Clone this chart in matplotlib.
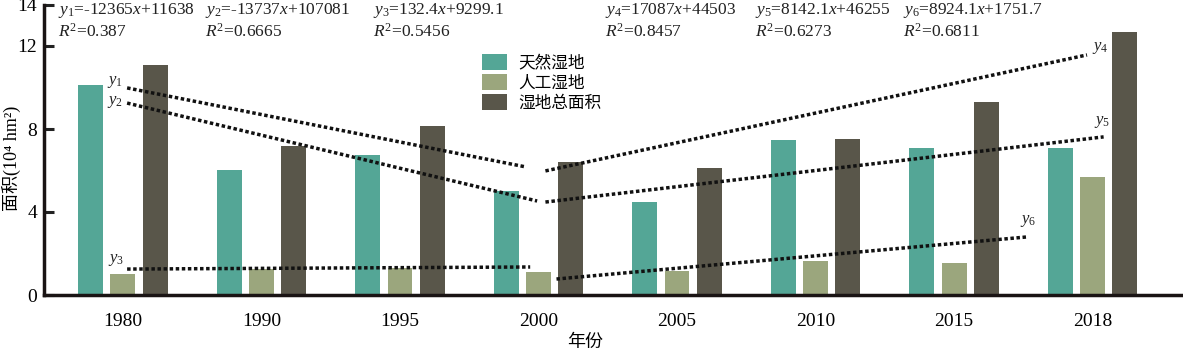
import numpy as np
import matplotlib
matplotlib.use('Agg')
import matplotlib.pyplot as plt

plt.rcParams['font.family'] = ['Liberation Serif', 'Noto Sans CJK SC']
plt.rcParams['mathtext.fontset'] = 'custom'
plt.rcParams['mathtext.rm'] = 'Liberation Serif'
plt.rcParams['mathtext.it'] = 'Liberation Serif:italic'
plt.rcParams['mathtext.bf'] = 'Liberation Serif:bold'

# data (10^4 hm2)
years = ['1980', '1990', '1995', '2000', '2005', '2010', '2015', '2018']
natural = [10.12, 6.02, 6.75, 5.01, 4.48, 7.47, 7.10, 7.10]
artificial = [1.01, 1.25, 1.28, 1.10, 1.18, 1.65, 1.54, 5.70]
total = [11.08, 7.18, 8.14, 6.41, 6.12, 7.50, 9.30, 12.66]
series_names = ['天然湿地', '人工湿地', '湿地总面积']

# fitted trend segments (start/end in group index and value)
trend_names = ['$y_1$', '$y_2$', '$y_3$', '$y_4$', '$y_5$', '$y_6$']
trend_x0 = [0.03, 0.03, 0.03, 3.05, 3.05, 3.13]
trend_x1 = [2.91, 2.99, 2.94, 6.96, 7.08, 6.53]
trend_y0 = [9.98, 9.25, 1.25, 5.98, 4.48, 0.77]
trend_y1 = [6.17, 4.53, 1.35, 11.57, 7.62, 2.80]

eq_labels = ['$y_1$=-12365$x$+11638', '$y_2$=-13737$x$+107081',
             '$y_3$=132.4$x$+9299.1', '$y_4$=17087$x$+44503',
             '$y_5$=8142.1$x$+46255', '$y_6$=8924.1$x$+1751.7']
r2_labels = ['$R^2$=0.387', '$R^2$=0.6665', '$R^2$=0.5456',
             '$R^2$=0.8457', '$R^2$=0.6273', '$R^2$=0.6811']

colors = ['#54A696', '#9BA67D', '#59564A']

W, H = 1183, 354
fig = plt.figure(figsize=(W / 100, H / 100), dpi=100)
ax = fig.add_axes([44 / W, 59 / H, 1 - 44 / W, (295 - 4.5) / H])

x = np.arange(len(years))
bw = 0.18
step = 0.232
for k, vals in enumerate([natural, artificial, total]):
    ax.bar(x + (k - 1) * step, vals, width=bw, color=colors[k],
           label=series_names[k], zorder=2)

# trend lines and their small labels
label_where = [(0, -8.6, 4), (0, -8.6, 1), (0, -8, 6.5), (1, 9.4, 5), (1, -1.4, 10.8), (1, 0.7, 11.5)]
for i in range(len(trend_names)):
    ax.plot([trend_x0[i], trend_x1[i]], [trend_y0[i], trend_y1[i]], color='#111111',
            lw=2.5, linestyle=(0, (1, 0.75)), dash_capstyle='butt', zorder=3)
    end, dx, dy = label_where[i]
    px = trend_x0[i] if end == 0 else trend_x1[i]
    py = trend_y0[i] if end == 0 else trend_y1[i]
    ax.annotate(trend_names[i], (px, py), xytext=(dx, dy), textcoords='offset points',
                ha='center', va='center', fontsize=12, color='#222222')

# equation text at the top
eq_x = [58, 205, 373, 605, 755, 903]
for i in range(len(eq_labels)):
    fig.text(eq_x[i] / W, 1 - 13.5 / H, eq_labels[i], fontsize=12.5, va='baseline', color='#222222')
    fig.text(eq_x[i] / W, 1 - 36.5 / H, r2_labels[i], fontsize=12.5, va='baseline', color='#222222')

ax.set_xlim(-0.570, 7.653)
ax.set_ylim(0, 14)
ax.set_yticks([0, 4, 8, 12, 14])
ax.set_xticks(x)
ax.set_xticklabels(years)
ax.tick_params(axis='y', direction='in', length=7, width=2.2, labelsize=14, pad=5, color='#222222')
ax.tick_params(axis='x', length=0, labelsize=14, pad=13)
for s in ['top', 'right']:
    ax.spines[s].set_visible(False)
for s in ['left', 'bottom']:
    ax.spines[s].set_linewidth(2.5)
    ax.spines[s].set_color('#1a1414')

ax.set_ylabel('面积(10⁴ hm²)', fontsize=13)
ax.yaxis.set_label_coords(-0.020, 0.47)
ax.set_xlabel('年份', fontsize=13)
ax.xaxis.set_label_coords((585 - 44) / 1139, -0.135)

ax.legend(loc='upper left', bbox_to_anchor=(0.3845, 0.83), frameon=False, fontsize=12,
          handlelength=1.5, handleheight=1.15, labelspacing=0.12, handletextpad=0.7,
          borderpad=0, borderaxespad=0)

fig.savefig('out.png', dpi=100)
